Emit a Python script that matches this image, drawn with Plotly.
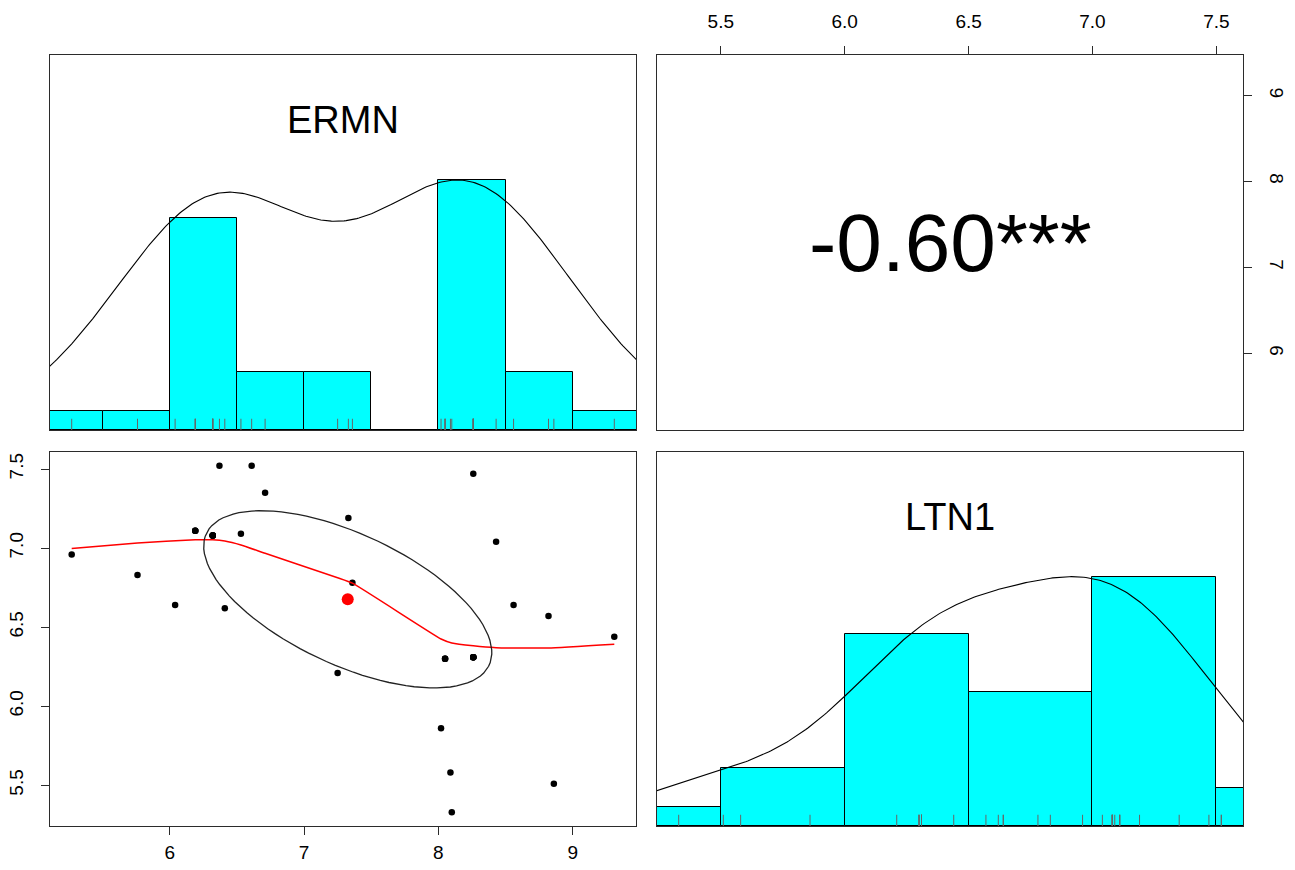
import numpy as np
import plotly.graph_objects as go

# ---------------- data ----------------
# 24 visible points + 12 coincident (overplotted) points implied by the histograms
ermn = [5.27, 5.76, 6.04, 6.19, 6.32, 6.37, 6.41, 6.53, 6.61, 6.71, 7.25, 7.33,
        7.36, 8.02, 8.05, 8.09, 8.10, 8.26, 8.26, 8.43, 8.56, 8.82, 8.86, 9.31,
        6.19, 6.19, 6.32, 6.32, 6.32, 6.32, 8.05, 8.05, 8.26, 8.26, 8.26, 8.26]
ltn1 = [6.96, 6.83, 6.64, 7.11, 7.08, 7.52, 6.62, 7.09, 7.52, 7.35, 6.21, 7.19,
        6.78, 5.86, 6.30, 5.58, 5.33, 7.47, 6.31, 7.04, 6.64, 6.57, 5.51, 6.44,
        7.11, 7.11, 7.08, 7.08, 7.08, 7.08, 6.30, 6.30, 6.31, 6.31, 6.31, 6.31]

ermn_breaks = [5.0, 5.5, 6.0, 6.5, 7.0, 7.5, 8.0, 8.5, 9.0, 9.5]
ltn1_breaks = [5.0, 5.5, 6.0, 6.5, 7.0, 7.5, 8.0]

# lowess smoother
smooth_x = [5.27, 5.76, 6.19, 6.32, 6.41, 6.53, 6.71, 7.25, 7.36, 8.02, 8.10, 8.26, 8.43, 8.56, 8.82, 9.31]
smooth_y = [6.998, 7.032, 7.052, 7.052, 7.045, 7.020, 6.967, 6.812, 6.778, 6.425, 6.400, 6.382, 6.370, 6.368, 6.368, 6.392]

var_names = ["ERMN", "LTN1"]
corr_label = "-0.60***"

ermn_ticks = [6, 7, 8, 9]
ltn1_ticks = [5.5, 6.0, 6.5, 7.0, 7.5]

# ---------------- helpers ----------------
x = np.array(ermn)
y = np.array(ltn1)


def ext_range(v):
    lo, hi = float(np.min(v)), float(np.max(v))
    d = 0.04 * (hi - lo)
    return [lo - d, hi + d]


def kde(v, adjust=1.2):
    v = np.asarray(v)
    n = len(v)
    q75, q25 = np.percentile(v, [75, 25])
    bw = 1.06 * min(np.std(v, ddof=1), (q75 - q25) / 1.34) * n ** (-0.2) * adjust
    grid = np.linspace(v.min() - 3 * bw, v.max() + 3 * bw, 512)
    dens = np.exp(-0.5 * ((grid[:, None] - v[None, :]) / bw) ** 2).sum(axis=1)
    return grid, dens / dens.max()


def hist_bars(v, breaks):
    counts, edges = np.histogram(v, bins=breaks)
    centers = (edges[:-1] + edges[1:]) / 2
    return centers, counts / counts.max(), edges[1] - edges[0]


def rug(v, h=0.045):
    xs, ys = [], []
    for a in v:
        xs += [a, a, None]
        ys += [0, h, None]
    return xs, ys


xr = ext_range(x)
yr = ext_range(y)

CYAN = "#00FFFF"
FRAME = "#2b2b2b"
fig = go.Figure()

# ---- top-left: ERMN histogram + density + rug ----
c, h, w = hist_bars(x, ermn_breaks)
fig.add_trace(go.Bar(x=c, y=h, width=w, marker=dict(color=CYAN, line=dict(color="black", width=1)),
                     xaxis="x", yaxis="y", hoverinfo="skip"))
gx, gd = kde(x)
fig.add_trace(go.Scatter(x=gx, y=gd, mode="lines", line=dict(color="black", width=1.1),
                         xaxis="x", yaxis="y", hoverinfo="skip"))
rx, ry = rug(x)
fig.add_trace(go.Scatter(x=rx, y=ry, mode="lines", line=dict(color="#666666", width=1),
                         xaxis="x", yaxis="y", hoverinfo="skip"))

# ---- top-right: correlation panel (empty frame holding the axes) ----
fig.add_trace(go.Scatter(x=[yr[0]], y=[xr[0]], mode="markers", marker=dict(opacity=0),
                         xaxis="x2", yaxis="y2", hoverinfo="skip"))

# ---- bottom-right: LTN1 histogram + density + rug ----
c, h, w = hist_bars(y, ltn1_breaks)
fig.add_trace(go.Bar(x=c, y=h, width=w, marker=dict(color=CYAN, line=dict(color="black", width=1)),
                     xaxis="x4", yaxis="y4", hoverinfo="skip"))
gx, gd = kde(y)
fig.add_trace(go.Scatter(x=gx, y=gd, mode="lines", line=dict(color="black", width=1.1),
                         xaxis="x4", yaxis="y4", hoverinfo="skip"))
rx, ry = rug(y)
fig.add_trace(go.Scatter(x=rx, y=ry, mode="lines", line=dict(color="#666666", width=1),
                         xaxis="x4", yaxis="y4", hoverinfo="skip"))

# ---- bottom-left: scatter + lowess + ellipse ----
fig.add_trace(go.Scatter(x=x, y=y, mode="markers", marker=dict(color="black", size=6.5),
                         xaxis="x3", yaxis="y3", hoverinfo="skip"))
fig.add_trace(go.Scatter(x=smooth_x, y=smooth_y, mode="lines",
                         line=dict(color="red", width=1.5, shape="spline", smoothing=0.4),
                         xaxis="x3", yaxis="y3", hoverinfo="skip"))
xm, ym = x.mean(), y.mean()
xs, ys = x.std(ddof=1), y.std(ddof=1)
r = np.corrcoef(x, y)[0, 1]
ang = np.linspace(0, 2 * np.pi, 101)
circle = np.column_stack([np.cos(ang), np.sin(ang)])
theta = np.sign(r) / np.sqrt(2)
shape = np.diag([np.sqrt(1 + r), np.sqrt(1 - r)]) @ np.array([[theta, theta], [-theta, theta]])
ell = circle @ shape
fig.add_trace(go.Scatter(x=ell[:, 0] * xs + xm, y=ell[:, 1] * ys + ym, mode="lines",
                         line=dict(color="#222222", width=1.3), xaxis="x3", yaxis="y3", hoverinfo="skip"))
fig.add_trace(go.Scatter(x=[xm], y=[ym], mode="markers", marker=dict(color="red", size=12),
                         xaxis="x3", yaxis="y3", hoverinfo="skip"))

# ---------------- layout ----------------
W, H = 1295, 870
dl = [50 / W, 636 / W]
dr = [657 / W, 1243 / W]
dt = [1 - 430 / H, 1 - 55 / H]
db = [1 - 826 / H, 1 - 452 / H]

TF = dict(family="Liberation Sans, Arial, sans-serif", size=19, color="black")


def frame(**kw):
    d = dict(showline=True, mirror=True, linecolor=FRAME, linewidth=1.2, showgrid=False,
             zeroline=False, fixedrange=True)
    d.update(kw)
    return d


def noticks():
    return dict(showticklabels=False, ticks="")


def ticked(vals, text, side, angle=0, standoff=10):
    return dict(tickmode="array", tickvals=vals, ticktext=text, ticks="outside", ticklen=8,
                tickwidth=1.2, tickcolor=FRAME, tickfont=TF, side=side, tickangle=angle,
                ticklabelstandoff=standoff)


ltn1_text = [f"{v:.1f}" for v in ltn1_ticks]
ermn_text = [str(v) for v in ermn_ticks]

fig.update_layout(
    width=W, height=H, margin=dict(l=0, r=0, t=0, b=0),
    paper_bgcolor="white", plot_bgcolor="white", showlegend=False, bargap=0,
    xaxis=frame(domain=dl, anchor="y", range=xr, **noticks()),
    yaxis=frame(domain=dt, anchor="x", range=[0, 1.5], **noticks()),
    xaxis2=frame(domain=dr, anchor="y2", range=yr, **ticked(ltn1_ticks, ltn1_text, "top", 0, 10)),
    yaxis2=frame(domain=dt, anchor="x2", range=xr, **ticked(ermn_ticks, ermn_text, "right", 90, 10)),
    xaxis3=frame(domain=dl, anchor="y3", range=xr, **ticked(ermn_ticks, ermn_text, "bottom", 0, 1)),
    yaxis3=frame(domain=db, anchor="x3", range=yr, **ticked(ltn1_ticks, ltn1_text, "left", -90, 10)),
    xaxis4=frame(domain=dr, anchor="y4", range=yr, **noticks()),
    yaxis4=frame(domain=db, anchor="x4", range=[0, 1.5], **noticks()),
)

name_font = dict(family="Liberation Sans, Arial, sans-serif", size=38, color="black")
fig.add_annotation(text=var_names[0], x=0.5, y=1.24, xref="x domain", yref="y",
                   showarrow=False, font=name_font)
fig.add_annotation(text=var_names[1], x=0.5, y=1.24, xref="x4 domain", yref="y4",
                   showarrow=False, font=name_font)
fig.add_annotation(text=corr_label, x=0.5, y=0.5, xref="x2 domain", yref="y2 domain",
                   showarrow=False,
                   font=dict(family="Liberation Sans, Arial, sans-serif", size=82, color="black"))

fig.write_html("out.html", config={"displayModeBar": False},
               post_script="document.body.style.margin='0px';document.body.style.overflow='hidden';")
